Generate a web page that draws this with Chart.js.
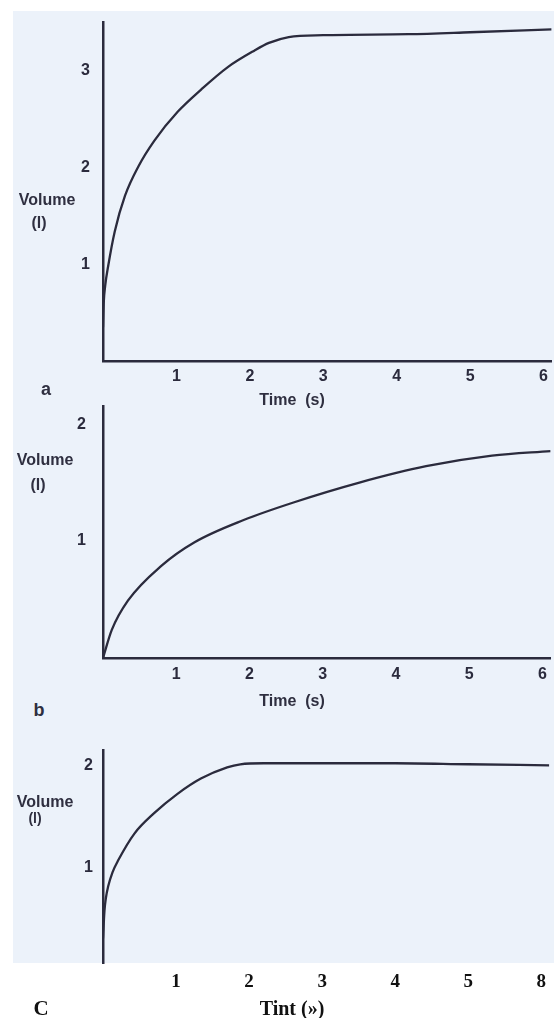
<!DOCTYPE html>
<html>
<head>
<meta charset="utf-8">
<script src="https://cdn.jsdelivr.net/npm/chart.js@4.4.1/dist/chart.umd.min.js"></script>
<style>
  body { margin: 0; background: #fff; width: 554px; height: 1018px; position: relative; overflow: hidden;
         font-family: "Liberation Sans", Arial, sans-serif; color: #2f2f40; }
  #paper { position: absolute; left: 13px; top: 11px; width: 541px; height: 952px; background: #ecf2fa; }
  canvas { position: absolute; left: 0; }
  .lbl { position: absolute; font-weight: bold; font-size: 16px; white-space: pre; line-height: 1;
         transform: translate(-50%, -50%); }
  .serif { font-family: "Liberation Serif", "Times New Roman", serif; color: #111; }
</style>
</head>
<body>
<div id="paper"></div>

<canvas id="chartA" width="554" height="400" style="top:0px"></canvas>
<canvas id="chartB" width="554" height="310" style="top:380px"></canvas>
<canvas id="chartC" width="554" height="288" style="top:730px"></canvas>

<div class="lbl" style="left:47px;top:200px">Volume</div>
<div class="lbl" style="left:39px;top:223px">(l)</div>
<div class="lbl" style="left:46px;top:389px;font-size:18px">a</div>
<div class="lbl" style="left:292px;top:400px">Time  (s)</div>

<div class="lbl" style="left:45px;top:460px">Volume</div>
<div class="lbl" style="left:38px;top:485px">(l)</div>
<div class="lbl" style="left:39px;top:710px;font-size:18px">b</div>
<div class="lbl" style="left:292px;top:701px">Time  (s)</div>

<div class="lbl" style="left:45px;top:802px">Volume</div>
<div class="lbl" style="left:35px;top:818px;font-size:14px">(l)</div>
<div class="lbl serif" style="left:41px;top:1008px;font-size:21px">C</div>
<div class="lbl serif" style="left:292px;top:1008px;font-size:20px">Tint (»)</div>

<script>
// panel a : normal
const timeA = [0, 0.01, 0.03, 0.07, 0.16, 0.30, 0.48, 0.70, 1.02, 1.34, 1.70, 2.06, 2.26, 2.53, 3.0, 4.16, 5.0, 6.11];
const volA  = [0.35, 0.60, 0.78, 0.98, 1.34, 1.71, 2.01, 2.28, 2.58, 2.81, 3.04, 3.21, 3.29, 3.35, 3.37, 3.38, 3.40, 3.43];

// panel b : obstructive
const timeB = [0, 0.12, 0.34, 0.80, 1.25, 1.92, 2.60, 3.50, 4.41, 5.31, 6.11];
const volB  = [0, 0.24, 0.49, 0.79, 0.99, 1.18, 1.33, 1.50, 1.64, 1.73, 1.77];

// panel c : restrictive
const timeC = [0, 0.02, 0.04, 0.07, 0.13, 0.21, 0.43, 0.70, 1.02, 1.34, 1.70, 1.88, 2.2, 3.05, 4.0, 5.0, 6.11];
const volC  = [0.30, 0.57, 0.70, 0.81, 0.95, 1.07, 1.33, 1.53, 1.72, 1.87, 1.98, 2.01, 2.02, 2.02, 2.02, 2.01, 2.00];

const xTicks = [1, 2, 3, 4, 5, 6];
const xTickLabelsC = ['1', '2', '3', '4', '5', '8'];
const yTicksA = [1, 2, 3];
const yTicksB = [1, 2];
const yTicksC = [1, 2];

const ink = '#2b2b3d';
const sansFont = {family: '"Liberation Sans", Arial, sans-serif', size: 16, weight: 'bold'};
const serifFont = {family: '"Liberation Serif", "Times New Roman", serif', size: 19, weight: 'bold'};

function makeChart(id, times, vols, o) {
  const pts = times.map((t, i) => ({x: t, y: vols[i]}));
  return new Chart(document.getElementById(id), {
    type: 'scatter',
    data: {
      datasets: [{
        data: pts,
        showLine: true,
        borderColor: ink,
        borderWidth: 2.3,
        pointRadius: 0,
        cubicInterpolationMode: 'monotone'
      }]
    },
    options: {
      responsive: false,
      animation: false,
      layout: {padding: {top: o.top, right: 0, left: 0, bottom: 0}},
      plugins: {legend: {display: false}, tooltip: {enabled: false}},
      scales: {
        x: {
          type: 'linear', min: 0, max: 6.11,
          afterBuildTicks: s => { s.ticks = xTicks.map(v => ({value: v})); },
          afterFit: s => { s.height = o.xh; },
          grid: {display: false, drawTicks: false},
          border: {display: o.xBorder, color: ink, width: 2.5},
          ticks: {
            color: o.xColor, font: o.xFont, padding: o.xPad, maxRotation: 0,
            callback: (v, i) => o.xLabels ? o.xLabels[i] : String(v)
          }
        },
        y: {
          type: 'linear', min: o.ymin, max: o.ymax,
          afterBuildTicks: s => { s.ticks = o.yTicks.map(v => ({value: v})); },
          afterFit: s => { s.width = 103; },
          grid: {display: false, drawTicks: false},
          border: {display: true, color: ink, width: 2.5},
          ticks: {color: ink, font: sansFont, padding: o.yPad}
        }
      }
    }
  });
}

makeChart('chartA', timeA, volA, {
  top: 12, xh: 39, ymin: 0, ymax: 3.5, yTicks: yTicksA, yPad: 13,
  xBorder: true, xFont: sansFont, xColor: ink, xPad: 6
});
makeChart('chartB', timeB, volB, {
  top: 20, xh: 32, ymin: 0, ymax: 2.15, yTicks: yTicksB, yPad: 17,
  xBorder: true, xFont: sansFont, xColor: ink, xPad: 7
});
makeChart('chartC', timeC, volC, {
  top: 20, xh: 55, ymin: 0.06, ymax: 2.15, yTicks: yTicksC, yPad: 10,
  xBorder: false, xFont: serifFont, xColor: '#111', xPad: 8, xLabels: xTickLabelsC
});
</script>
</body>
</html>
